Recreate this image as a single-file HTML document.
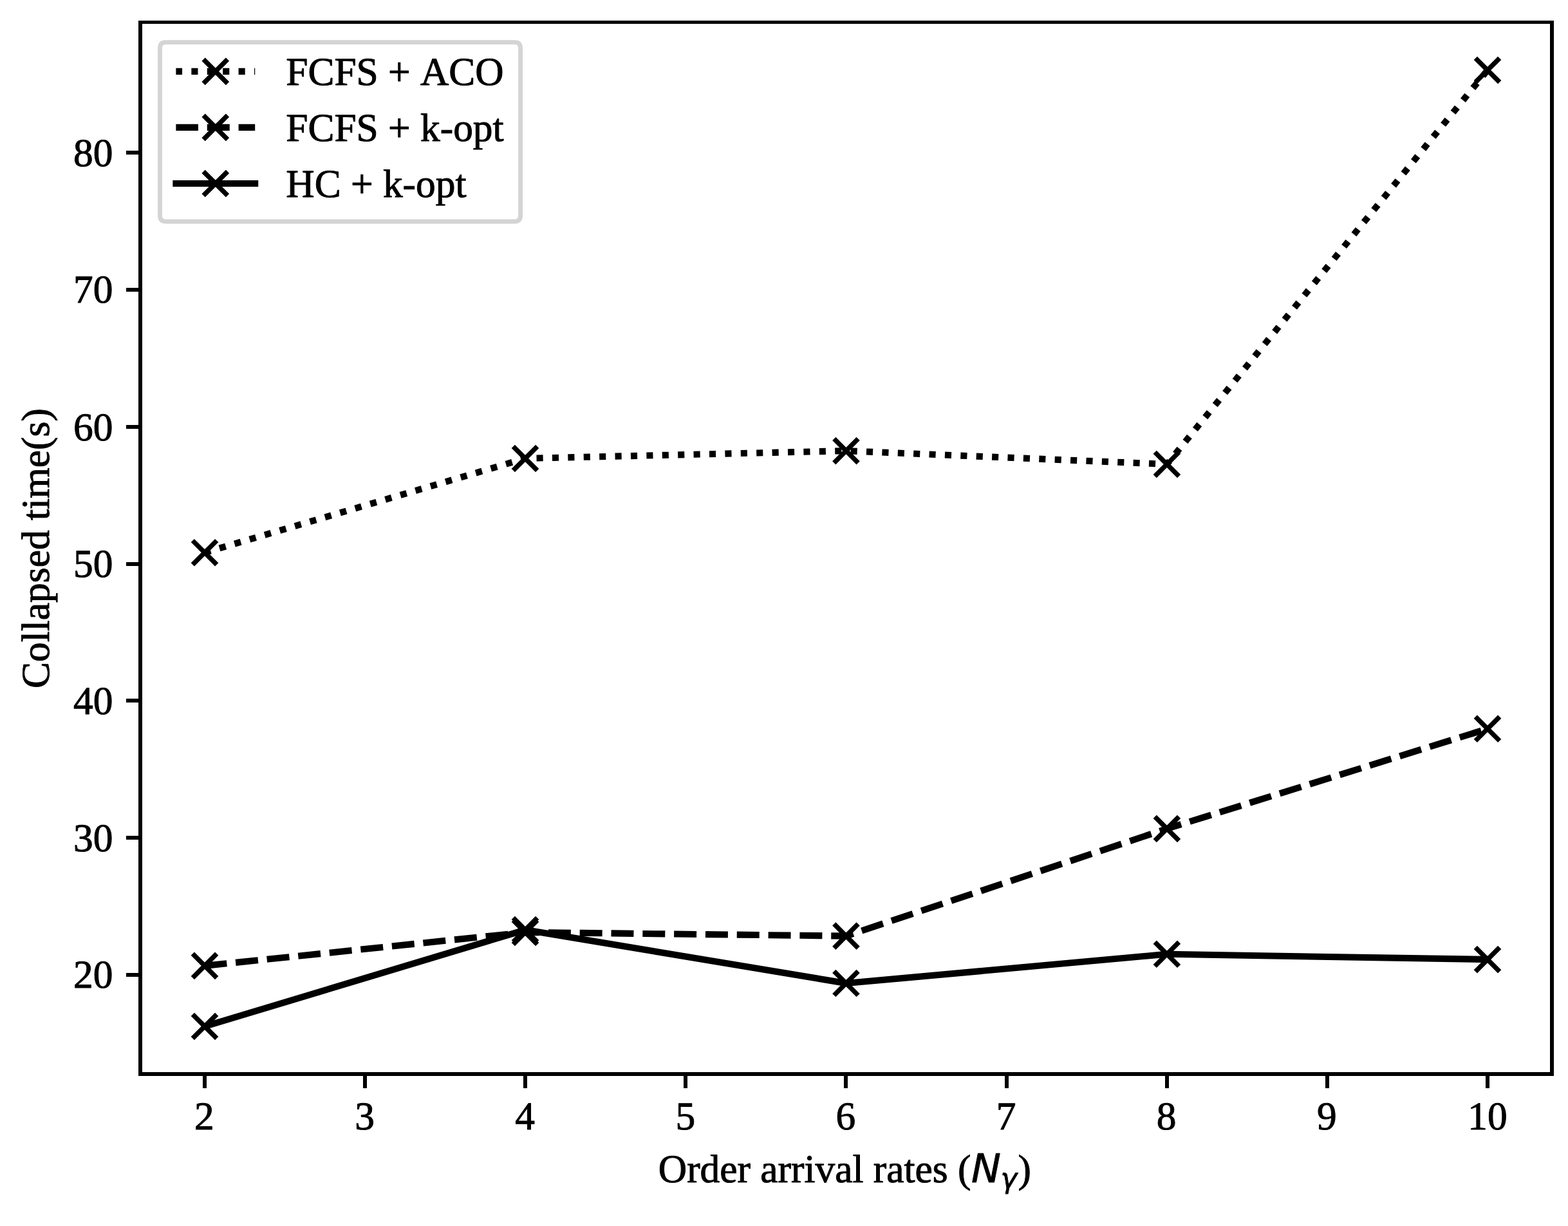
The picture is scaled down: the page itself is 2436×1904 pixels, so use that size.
<!DOCTYPE html>
<html lang="en"><head><meta charset="utf-8"><title>Collapsed time vs order arrival rates</title>
<style>
html,body{margin:0;padding:0;background:#fff;}
body{width:2436px;height:1904px;overflow:hidden;}
svg{display:block;}
text{font-family:"Liberation Serif","Times New Roman",Times,serif;font-size:61.40px;fill:#000;text-rendering:geometricPrecision;font-kerning:none;stroke:#000;stroke-width:1.00px;stroke-linejoin:round;paint-order:stroke;}
.m{font-family:"DejaVu Sans","Liberation Sans",sans-serif;font-style:italic;stroke-width:0.9px;}
</style></head><body>
<svg width="2436" height="1904" viewBox="0 0 2436 1904" role="img" aria-label="Line chart of collapsed time versus order arrival rates">
<rect x="0" y="0" width="2436" height="1904" fill="#fff"/>
<g id="lines">
<path d="M318.00 858.20L816.00 711.96L1314.45 700.16L1812.90 720.95L2311.00 108.97" stroke="#000" stroke-width="10.11" fill="none" stroke-linejoin="round" stroke-linecap="butt" stroke-dasharray="10.11 14.30" stroke-dashoffset="0.45"/>
<path d="M318.00 1499.90L816.00 1447.90L1314.45 1453.60L1812.90 1287.00L2311.00 1131.80" stroke="#000" stroke-width="10.11" fill="none" stroke-linejoin="round" stroke-linecap="butt" stroke-dasharray="34.98 13.84" stroke-dashoffset="0.45"/>
<path d="M318.00 1594.00L816.00 1444.05L1314.45 1527.05L1812.90 1481.80L2311.00 1490.06" stroke="#000" stroke-width="10.11" fill="none" stroke-linejoin="round" stroke-linecap="square"/>
</g>
<g id="markers">
<path d="M299.30 839.50L336.70 876.90M299.30 876.90L336.70 839.50" stroke="#000" stroke-width="7.40" fill="none" stroke-linecap="butt"/>
<path d="M797.30 693.26L834.70 730.66M797.30 730.66L834.70 693.26" stroke="#000" stroke-width="7.40" fill="none" stroke-linecap="butt"/>
<path d="M1295.75 681.46L1333.15 718.86M1295.75 718.86L1333.15 681.46" stroke="#000" stroke-width="7.40" fill="none" stroke-linecap="butt"/>
<path d="M1794.20 702.25L1831.60 739.65M1794.20 739.65L1831.60 702.25" stroke="#000" stroke-width="7.40" fill="none" stroke-linecap="butt"/>
<path d="M2292.30 90.27L2329.70 127.67M2292.30 127.67L2329.70 90.27" stroke="#000" stroke-width="7.40" fill="none" stroke-linecap="butt"/>
<path d="M299.30 1481.20L336.70 1518.60M299.30 1518.60L336.70 1481.20" stroke="#000" stroke-width="7.40" fill="none" stroke-linecap="butt"/>
<path d="M797.30 1429.20L834.70 1466.60M797.30 1466.60L834.70 1429.20" stroke="#000" stroke-width="7.40" fill="none" stroke-linecap="butt"/>
<path d="M1295.75 1434.90L1333.15 1472.30M1295.75 1472.30L1333.15 1434.90" stroke="#000" stroke-width="7.40" fill="none" stroke-linecap="butt"/>
<path d="M1794.20 1268.30L1831.60 1305.70M1794.20 1305.70L1831.60 1268.30" stroke="#000" stroke-width="7.40" fill="none" stroke-linecap="butt"/>
<path d="M2292.30 1113.10L2329.70 1150.50M2292.30 1150.50L2329.70 1113.10" stroke="#000" stroke-width="7.40" fill="none" stroke-linecap="butt"/>
<path d="M299.30 1575.30L336.70 1612.70M299.30 1612.70L336.70 1575.30" stroke="#000" stroke-width="7.40" fill="none" stroke-linecap="butt"/>
<path d="M797.30 1425.35L834.70 1462.75M797.30 1462.75L834.70 1425.35" stroke="#000" stroke-width="7.40" fill="none" stroke-linecap="butt"/>
<path d="M1295.75 1508.35L1333.15 1545.75M1295.75 1545.75L1333.15 1508.35" stroke="#000" stroke-width="7.40" fill="none" stroke-linecap="butt"/>
<path d="M1794.20 1463.10L1831.60 1500.50M1794.20 1500.50L1831.60 1463.10" stroke="#000" stroke-width="7.40" fill="none" stroke-linecap="butt"/>
<path d="M2292.30 1471.36L2329.70 1508.76M2292.30 1508.76L2329.70 1471.36" stroke="#000" stroke-width="7.40" fill="none" stroke-linecap="butt"/>
</g>
<g id="axes" fill="#000">
<rect x="215" y="32" width="6" height="1639"/>
<rect x="2408" y="32" width="6" height="1639"/>
<rect x="215" y="32" width="2199" height="5"/>
<rect x="215" y="1665" width="2199" height="6"/>
<rect x="315.0" y="1668" width="6" height="22"/>
<rect x="564.0" y="1668" width="6" height="22"/>
<rect x="813.0" y="1668" width="6" height="22"/>
<rect x="1062.0" y="1668" width="6" height="22"/>
<rect x="1311.0" y="1668" width="6" height="22"/>
<rect x="1561.0" y="1668" width="6" height="22"/>
<rect x="1810.0" y="1668" width="6" height="22"/>
<rect x="2059.0" y="1668" width="6" height="22"/>
<rect x="2308.0" y="1668" width="6" height="22"/>
<rect x="196" y="1511.0" width="22" height="6"/>
<rect x="196" y="1298.0" width="22" height="6"/>
<rect x="196" y="1085.0" width="22" height="6"/>
<rect x="196" y="873.0" width="22" height="6"/>
<rect x="196" y="660.0" width="22" height="6"/>
<rect x="196" y="447.0" width="22" height="6"/>
<rect x="196" y="234.0" width="22" height="6"/>
</g>
<g id="ticklabels">
<text x="317.4" y="1753.6" text-anchor="middle">2</text>
<text x="566.5" y="1753.6" text-anchor="middle">3</text>
<text x="815.6" y="1753.6" text-anchor="middle">4</text>
<text x="1064.8" y="1753.6" text-anchor="middle">5</text>
<text x="1313.9" y="1753.6" text-anchor="middle">6</text>
<text x="1563.0" y="1753.6" text-anchor="middle">7</text>
<text x="1812.2" y="1753.6" text-anchor="middle">8</text>
<text x="2061.3" y="1753.6" text-anchor="middle">9</text>
<text x="2311.0" y="1753.6" text-anchor="middle">10</text>
<text x="175.5" y="1534.4" text-anchor="end">20</text>
<text x="175.5" y="1321.6" text-anchor="end">30</text>
<text x="175.5" y="1108.9" text-anchor="end">40</text>
<text x="175.5" y="896.1" text-anchor="end">50</text>
<text x="175.5" y="683.9" text-anchor="end">60</text>
<text x="175.5" y="470.4" text-anchor="end">70</text>
<text x="175.5" y="258.3" text-anchor="end">80</text>
</g>
<g id="axislabels">
<text x="1022.8" y="1835.8">Order arrival rates (</text>
<text class="m" x="1509.0" y="1835.6">N</text>
<text class="m" x="1554.4" y="1845.4" style="font-size:43px">γ</text>
<text x="1581.6" y="1835.8">)</text>
<text transform="translate(76.1 1068.9) rotate(-90)" x="0" y="0">Collapsed time(s)</text>
</g>
<g id="legend">
<path d="M257.70 65.60 L799.40 65.60 Q808.60 65.60 808.60 74.80 L808.60 334.80 Q808.60 344.00 799.40 344.00 L257.70 344.00 Q248.50 344.00 248.50 334.80 L248.50 74.80 Q248.50 65.60 257.70 65.60 Z" fill="#fff" fill-opacity="0.8" stroke="#d4d4d4" stroke-width="6.84" stroke-linejoin="miter"/>
<path d="M273.40 110.90L396.20 110.90" stroke="#000" stroke-width="10.11" fill="none" stroke-linejoin="round" stroke-linecap="butt" stroke-dasharray="10.11 14.30" stroke-dashoffset="0.45"/>
<path d="M316.10 92.20L353.50 129.60M316.10 129.60L353.50 92.20" stroke="#000" stroke-width="7.40" fill="none" stroke-linecap="butt"/>
<text x="444.3" y="132.3">FCFS + ACO</text>
<path d="M273.40 197.90L396.20 197.90" stroke="#000" stroke-width="10.11" fill="none" stroke-linejoin="round" stroke-linecap="butt" stroke-dasharray="34.98 13.84" stroke-dashoffset="0.45"/>
<path d="M316.10 179.20L353.50 216.60M316.10 216.60L353.50 179.20" stroke="#000" stroke-width="7.40" fill="none" stroke-linecap="butt"/>
<text x="444.3" y="218.6">FCFS + k-opt</text>
<path d="M273.40 285.00L396.20 285.00" stroke="#000" stroke-width="10.11" fill="none" stroke-linejoin="round" stroke-linecap="square"/>
<path d="M316.10 266.30L353.50 303.70M316.10 303.70L353.50 266.30" stroke="#000" stroke-width="7.40" fill="none" stroke-linecap="butt"/>
<text x="444.3" y="305.7">HC + k-opt</text>
</g>
</svg>
</body></html>
